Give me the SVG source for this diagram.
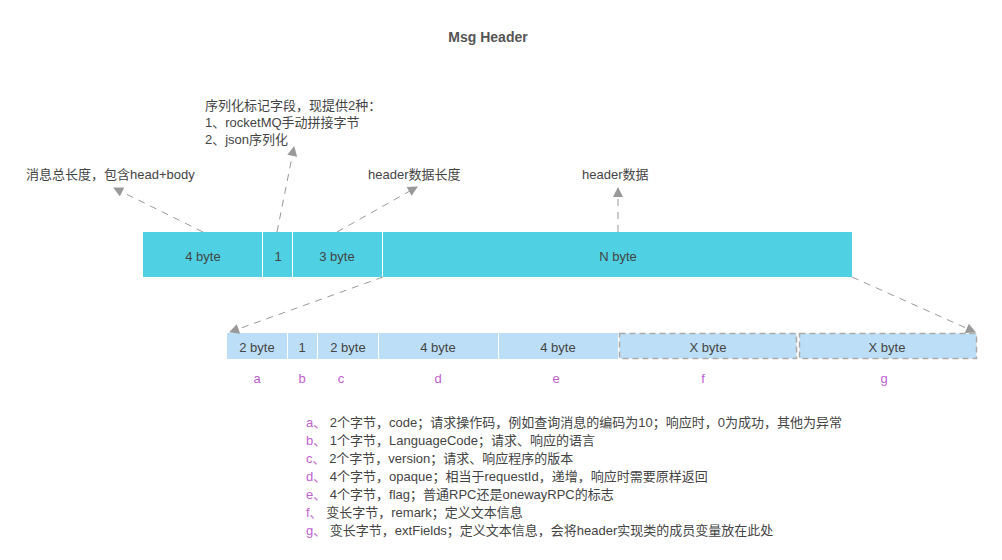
<svg xmlns="http://www.w3.org/2000/svg" width="1002" height="560" viewBox="0 0 1002 560">
<style>
text{font-family:"Liberation Sans","Noto Sans CJK SC",sans-serif;font-size:13px;fill:#444}
.c{text-anchor:middle}
.t{font-size:14px;font-weight:bold;fill:#555}
.top{fill:#4fd1e3}
.bot{fill:#bcdff7}
.dash{fill:#bcdff7;stroke:#aaa;stroke-width:1.5;stroke-dasharray:6 4}
.lbl{fill:#c060d0}
.conn{stroke:#999;stroke-width:1;stroke-dasharray:7 6;fill:none;marker-end:url(#ah)}
</style>
<defs>
<marker id="ah" viewBox="0 0 10 10" refX="9" refY="5" markerWidth="12" markerHeight="10" markerUnits="userSpaceOnUse" orient="auto">
<path d="M0,0 L10,5 L0,10 z" fill="#999"/>
</marker>
</defs>
<rect width="1002" height="560" fill="#fff"/>
<text class="t c" x="488" y="42">Msg Header</text>
<g id="note-serial">
<text x="205" y="110">序列化标记字段，现提供2种：</text>
<text x="205" y="127">1、rocketMQ手动拼接字节</text>
<text x="205" y="144">2、json序列化</text>
</g>
<g id="note-total"><text x="26" y="179">消息总长度，包含head+body</text></g>
<g id="note-hlen"><text x="368" y="179">header数据长度</text></g>
<g id="note-hdata"><text x="582" y="179">header数据</text></g>
<g id="seg-4byte"><rect class="top" x="143" y="232" width="119" height="45"/><text class="c" x="203" y="261">4 byte</text></g>
<g id="seg-1"><rect class="top" x="263" y="232" width="29" height="45"/><text class="c" x="278" y="261">1</text></g>
<g id="seg-3byte"><rect class="top" x="293" y="232" width="89" height="45"/><text class="c" x="337" y="261">3 byte</text></g>
<g id="seg-nbyte"><rect class="top" x="383" y="232" width="469" height="45"/><text class="c" x="618" y="261">N byte</text></g>
<g id="seg-a"><rect class="bot" x="227" y="333" width="60" height="26"/><text class="c" x="257" y="352">2 byte</text><text class="c lbl" x="257" y="383">a</text></g>
<g id="seg-b"><rect class="bot" x="288" y="333" width="29" height="26"/><text class="c" x="302" y="352">1</text><text class="c lbl" x="302" y="383">b</text></g>
<g id="seg-c"><rect class="bot" x="318" y="333" width="60" height="26"/><text class="c" x="348" y="352">2 byte</text><text class="c lbl" x="341" y="383">c</text></g>
<g id="seg-d"><rect class="bot" x="379" y="333" width="119" height="26"/><text class="c" x="438" y="352">4 byte</text><text class="c lbl" x="438" y="383">d</text></g>
<g id="seg-e"><rect class="bot" x="499" y="333" width="119" height="26"/><text class="c" x="558" y="352">4 byte</text><text class="c lbl" x="556" y="383">e</text></g>
<g id="seg-f"><rect class="dash" x="619.5" y="333.5" width="177" height="25"/><text class="c" x="708" y="352">X byte</text><text class="c lbl" x="703" y="383">f</text></g>
<g id="seg-g"><rect class="dash" x="799.5" y="333.5" width="177" height="25"/><text class="c" x="887" y="352">X byte</text><text class="c lbl" x="884" y="383">g</text></g>
<g id="connectors">
<line class="conn" x1="203" y1="232" x2="114" y2="188"/>
<line class="conn" x1="277" y1="232" x2="294" y2="147"/>
<line class="conn" x1="337" y1="232" x2="417" y2="187"/>
<line class="conn" x1="618" y1="232" x2="618" y2="188"/>
<line class="conn" x1="383" y1="277" x2="230" y2="332"/>
<line class="conn" x1="852" y1="277" x2="975" y2="332"/>
</g>
<g id="legend">
<text x="306" y="427"><tspan class="lbl">a、</tspan> 2个字节，code；请求操作码，例如查询消息的编码为10；响应时，0为成功，其他为异常</text>
<text x="306" y="445"><tspan class="lbl">b、</tspan> 1个字节，LanguageCode；请求、响应的语言</text>
<text x="306" y="463"><tspan class="lbl">c、</tspan> 2个字节，version；请求、响应程序的版本</text>
<text x="306" y="481"><tspan class="lbl">d、</tspan> 4个字节，opaque；相当于requestId，递增，响应时需要原样返回</text>
<text x="306" y="499"><tspan class="lbl">e、</tspan> 4个字节，flag；普通RPC还是onewayRPC的标志</text>
<text x="306" y="517"><tspan class="lbl">f、</tspan> 变长字节，remark；定义文本信息</text>
<text x="306" y="535"><tspan class="lbl">g、</tspan> 变长字节，extFields；定义文本信息，会将header实现类的成员变量放在此处</text>
</g>
</svg>
